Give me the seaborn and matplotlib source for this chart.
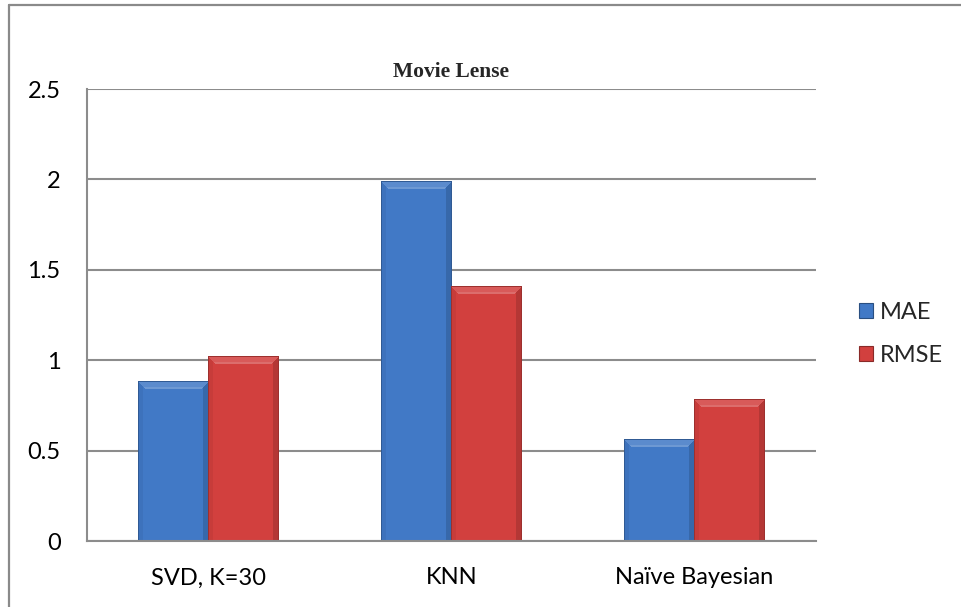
import numpy as np
import pandas as pd
import matplotlib
matplotlib.use("Agg")
import matplotlib.pyplot as plt
import matplotlib.colors as mcolors
from matplotlib.lines import Line2D
from matplotlib.patches import Patch
import seaborn as sns

# Data
categories = ["SVD, K=30", "KNN", "Naïve Bayesian"]
series = ["MAE", "RMSE"]
mae = [0.88, 1.99, 0.56]
rmse = [1.02, 1.41, 0.78]
yticks = [0, 0.5, 1, 1.5, 2, 2.5]
ytick_labels = ["0", "0.5", "1", "1.5", "2", "2.5"]

df = pd.DataFrame({
    "method": categories * 2,
    "metric": [series[0]] * len(mae) + [series[1]] * len(rmse),
    "value": mae + rmse,
})

colors = {"MAE": "#4179C6", "RMSE": "#D2403E"}

sns.set_theme(style="white")
plt.rcParams["font.family"] = ["Lato", "DejaVu Sans"]

W_PX, H_PX = 961, 607
fig = plt.figure(figsize=(W_PX / 100, H_PX / 100), dpi=100)
ax = fig.add_axes([87 / W_PX, 1 - 541 / H_PX, (816 - 87) / W_PX, (541 - 89) / H_PX])

sns.barplot(data=df, x="method", y="value", hue="metric", hue_order=series,
            palette=colors, width=0.58, gap=0, saturation=1, legend=False,
            edgecolor="none", ax=ax)

ax.set_xlim(-0.5, len(categories) - 0.5)
ax.set_ylim(0, 2.5)
ax.set_yticks(yticks)
ax.set_yticklabels(ytick_labels)
ax.set_xlabel("")
ax.set_ylabel("")
ax.yaxis.grid(True, color="#8c8c8c", lw=1.5)
ax.set_axisbelow(True)
for s in ["top", "right"]:
    ax.spines[s].set_visible(False)
for s in ["left", "bottom"]:
    ax.spines[s].set_color("#8c8c8c")
    ax.spines[s].set_linewidth(1.5)
ax.tick_params(axis="both", length=0, labelsize=17, colors="black")
ax.tick_params(axis="y", pad=19)
ax.tick_params(axis="x", pad=19)


def shade(c, f):
    r = np.array(mcolors.to_rgb(c))
    if f >= 0:
        return r + (1 - r) * f
    return r * (1 + f)


# Bevelled bar faces, built per bar from the bar patches seaborn drew
xlim, ylim = ax.get_xlim(), ax.get_ylim()
ax_w_px = ax.get_position().width * W_PX
ax_h_px = ax.get_position().height * H_PX
px_x = (xlim[1] - xlim[0]) / ax_w_px
px_y = (ylim[1] - ylim[0]) / ax_h_px
bevel = 8

for bar in list(ax.patches):
    x0, y0 = bar.get_x(), bar.get_y()
    w, h = bar.get_width(), bar.get_height()
    if h <= 0:
        continue
    base = bar.get_facecolor()[:3]
    nw = max(int(round(w / px_x)), 2)
    nh = max(int(round(h / px_y)), 2)
    rows = np.arange(nh)[:, None] + 0.5
    cols = np.arange(nw)[None, :] + 0.5
    d_t = np.broadcast_to(rows, (nh, nw))
    d_l = np.broadcast_to(cols, (nh, nw))
    d_r = np.broadcast_to(nw - cols, (nh, nw))
    img = np.empty((nh, nw, 3))
    img[:] = shade(base, 0.0)
    top = (d_t < bevel) & (d_t <= d_l) & (d_t <= d_r)
    left = (d_l < bevel * 0.6) & (d_l < d_t)
    right = (d_r < bevel * 0.8) & (d_r < d_t)
    img[left] = shade(base, -0.05)
    img[right] = shade(base, -0.14)
    img[top] = shade(base, 0.14)
    band = top & (d_t > bevel - 2.5)
    img[band] = shade(base, 0.24)
    edge = (d_t < 1) | (d_l < 1) | (d_r < 1)
    img[edge] = shade(base, -0.25)
    ax.imshow(img, extent=[x0, x0 + w, y0, y0 + h], origin="upper",
              aspect="auto", interpolation="nearest", zorder=bar.get_zorder() + 0.1)

ax.set_xlim(xlim)
ax.set_ylim(ylim)

# Title
fig.text(451 / W_PX, 1 - 72 / H_PX, "Movie Lense", ha="center", va="center",
         fontsize=15.5, fontweight="bold", family=["Liberation Serif", "DejaVu Serif"])

# Legend
handles = [Patch(facecolor=colors[s], edgecolor=shade(colors[s], -0.35), lw=0.8) for s in series]
ax.legend(handles, series, loc="center left", bbox_to_anchor=(859 / W_PX, 1 - 334 / H_PX),
          bbox_transform=fig.transFigure, frameon=False, fontsize=17,
          handlelength=0.6, handleheight=0.6, handletextpad=0.3,
          labelspacing=0.95, borderpad=0, borderaxespad=0)

# Chart border
border = dict(color="#8a8a8a", lw=1.6, transform=fig.transFigure)
fig.add_artist(Line2D([9 / W_PX, 1], [1 - 5 / H_PX, 1 - 5 / H_PX], **border))
fig.add_artist(Line2D([9 / W_PX, 9 / W_PX], [0, 1 - 5 / H_PX], **border))

fig.savefig("out.png", dpi=100)
